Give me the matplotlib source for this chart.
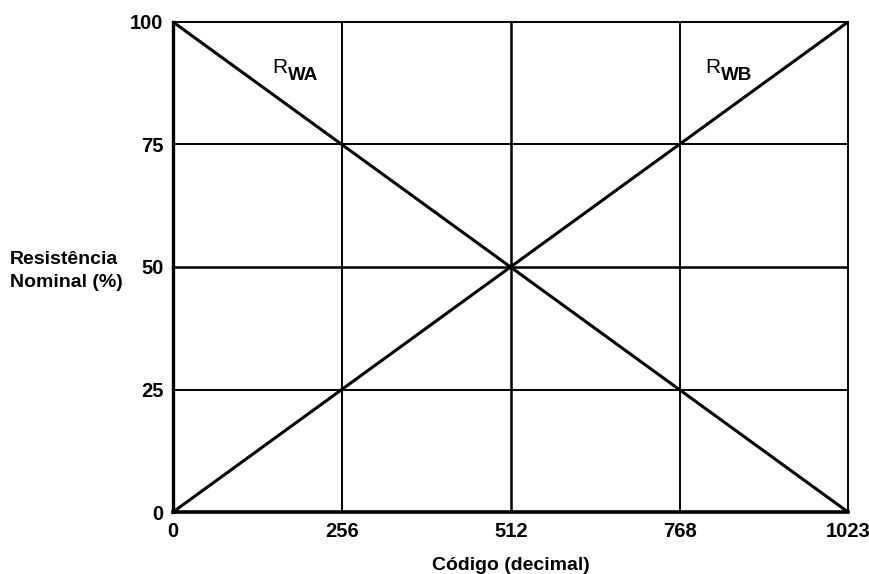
import matplotlib.pyplot as plt

# Potentiometer wiper resistance vs. digital code
codes = [0, 1023]
rwa = [100, 0]
rwb = [0, 100]

x_ticks = [0, 256, 512, 768, 1023]
y_ticks = [0, 25, 50, 75, 100]

plt.rcParams['font.family'] = ['Liberation Sans', 'DejaVu Sans']

fig = plt.figure(figsize=(8.7, 5.74), dpi=100)
ax = fig.add_axes([0.1989, 0.108, 0.7758, 0.8537])

# grid
for xv in x_ticks[1:-1]:
    ax.axvline(xv, color='black', lw=1.4 if xv != 512 else 1.8, zorder=1)
for yv in y_ticks[1:-1]:
    ax.axhline(yv, color='black', lw=1.4 if yv != 50 else 1.8, zorder=1)

ax.plot(codes, rwa, color='black', lw=2.2, zorder=2)
ax.plot(codes, rwb, color='black', lw=2.2, zorder=2)

ax.set_xlim(0, 1023)
ax.set_ylim(0, 100)
ax.set_xticks(x_ticks)
ax.set_yticks(y_ticks)
ax.set_xticklabels([str(v) for v in x_ticks], fontsize=14.5, fontweight='bold')
ax.set_yticklabels([str(v) for v in y_ticks], fontsize=14.5, fontweight='bold')
ax.tick_params(length=0, pad=7)

ax.spines['left'].set_linewidth(2.4)
ax.spines['bottom'].set_linewidth(2.6)
ax.spines['top'].set_linewidth(1.4)
ax.spines['right'].set_linewidth(1.4)

ax.set_xlabel('Código (decimal)', fontsize=14, fontweight='bold', labelpad=12)
fig.text(0.011, 0.528, 'Resistência\nNominal (%)', fontsize=14, fontweight='bold',
         ha='left', va='center', linespacing=1.45)

# curve labels R_WA / R_WB
for name, xv in [('WA', 150), ('WB', 806)]:
    ax.annotate('R', (xv, 89.6), fontsize=15, ha='left', va='baseline')
    ax.annotate(name, (xv, 89.6), xytext=(11.5, -5), textcoords='offset points',
                fontsize=13.5, fontweight='bold', ha='left', va='baseline')

fig.savefig('out.png', dpi=100)
